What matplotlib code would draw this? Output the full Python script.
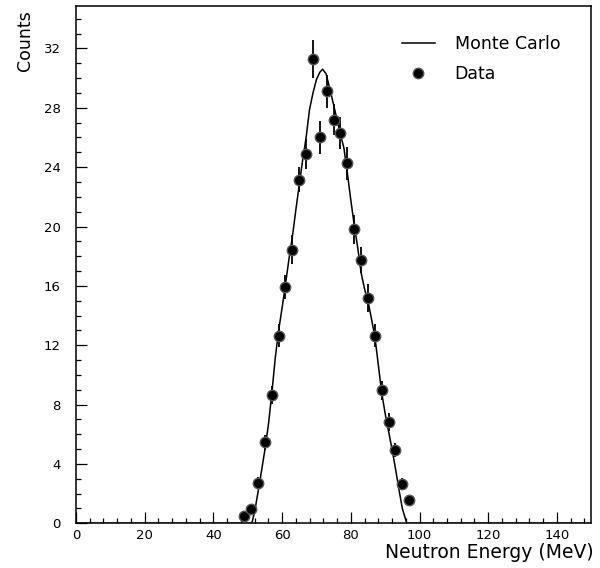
import matplotlib
matplotlib.use("Agg")
import matplotlib.pyplot as plt
from matplotlib.ticker import MultipleLocator

# data points (2 MeV bins)
energy = [49, 51, 53, 55, 57, 59, 61, 63, 65, 67, 69, 71, 73,
          75, 77, 79, 81, 83, 85, 87, 89, 91, 93, 95, 97]
counts = [0.47, 0.99, 2.74, 5.45, 8.63, 12.65, 15.9, 18.45, 23.15, 24.9, 31.27, 26.0, 29.1,
          27.2, 26.3, 24.25, 19.8, 17.75, 15.2, 12.65, 8.97, 6.8, 4.94, 2.68, 1.57]
errors = [0.25, 0.3, 0.4, 0.5, 0.6, 0.8, 0.8, 1.0, 0.85, 1.0, 1.27, 1.12, 1.1,
          1.05, 1.1, 1.1, 1.0, 0.9, 0.95, 0.8, 0.65, 0.6, 0.5, 0.4, 0.3]

# Monte Carlo curve
mc_x = [0, 50, 51.2, 52, 53, 54, 55, 56, 57, 58, 59, 60, 61, 62, 63, 64, 65, 66, 67, 68,
        69, 70, 71, 71.8, 72.8, 74, 75, 76, 77, 78, 79, 80, 81, 82, 83, 84, 85, 86,
        87, 88, 89, 90, 91, 92, 93, 94, 95, 96.3, 100, 150]
mc_y = [0, 0, 0, 0.75, 2.1, 3.5, 4.95, 6.6, 8.7, 11.1, 13.0, 14.5, 16.1, 17.8, 19.3, 21.1, 22.8, 24.5, 26.0, 27.9,
        29.0, 29.9, 30.4, 30.6, 30.3, 29.2, 28.2, 27.2, 26.2, 25.3, 23.6, 21.8, 20.1, 18.6, 16.9, 15.8, 15.0, 13.8,
        12.6, 10.7, 8.8, 7.4, 6.2, 5.0, 3.7, 2.3, 1.0, 0, 0, 0]

fig = plt.figure(figsize=(6, 5.68), dpi=100)
ax = fig.add_axes([0.1265, 0.0787, 0.859, 0.9107])

line, = ax.plot(mc_x, mc_y, color='black', lw=1.1, label='Monte Carlo')
eb = ax.errorbar(energy, counts, yerr=errors, fmt='o', color='black', ms=7.5,
                 mfc='black', mec='#555555', mew=1.0, elinewidth=1.3, capsize=0,
                 label='Data', zorder=3)

ax.set_xlim(0, 150)
ax.set_ylim(0, 34.86)
ax.xaxis.set_major_locator(MultipleLocator(20))
ax.xaxis.set_minor_locator(MultipleLocator(4))
ax.yaxis.set_major_locator(MultipleLocator(4))
ax.yaxis.set_minor_locator(MultipleLocator(1))
ax.tick_params(which='both', direction='in', top=False, right=False, labelsize=9.5)
ax.tick_params(which='major', length=8, width=0.9)
ax.tick_params(which='minor', length=3.6, width=0.9)
ax.tick_params(axis='x', pad=4)
ax.tick_params(axis='y', pad=11)

for s in ax.spines.values():
    s.set_linewidth(1.1)

fig.text(0.041, 0.982, 'Counts', rotation=90, ha='center', va='top', fontsize=12.5)
fig.text(0.99, 0.027, 'Neutron Energy (MeV)', ha='right', va='center', fontsize=13.5)

# legend: marker only for the data entry
ax.legend(handles=[line, eb[0]], labels=['Monte Carlo', 'Data'], loc='upper left',
          bbox_to_anchor=(0.602, 0.975), frameon=False, fontsize=12.5,
          handlelength=1.9, handletextpad=1.15, labelspacing=0.7)

fig.savefig('out.png', dpi=100)
